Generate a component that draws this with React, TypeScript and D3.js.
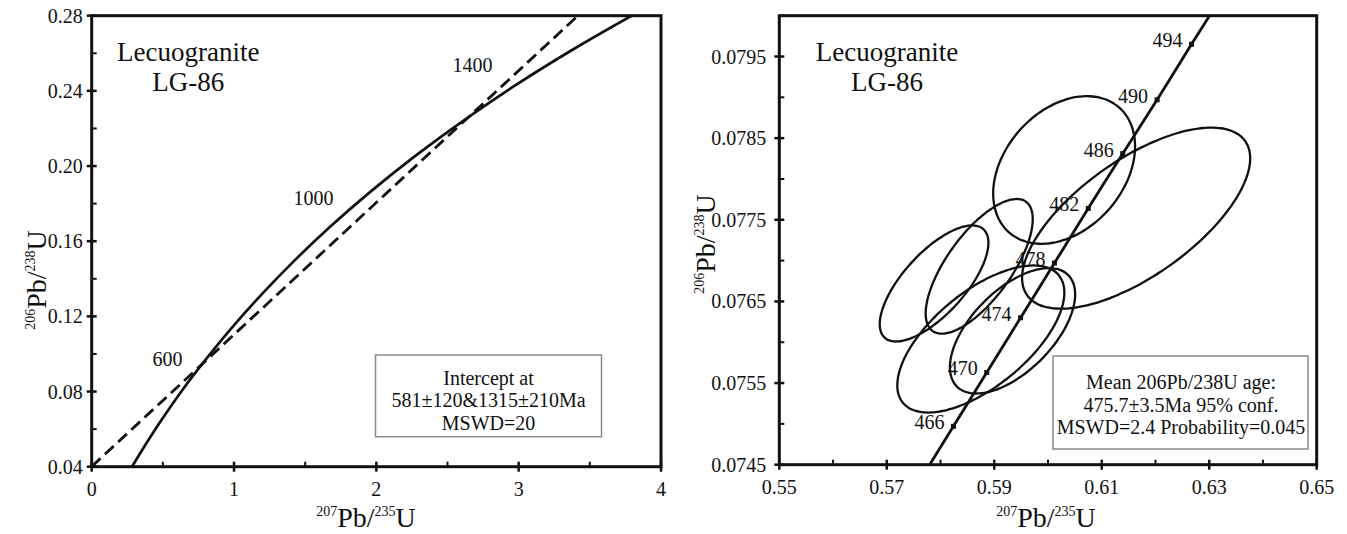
import React from 'react';
import * as d3 from 'd3';

// ---- left panel: concordia (207Pb/235U, 206Pb/238U)
const concX = [0.279, 0.344, 0.483, 0.636, 0.806, 0.993, 1.199, 1.426, 1.677, 1.955, 2.26, 2.598, 2.97, 3.381, 3.834];
const concY = [0.0395, 0.0476, 0.064, 0.0807, 0.0975, 0.1147, 0.1321, 0.1498, 0.1678, 0.1861, 0.2046, 0.2234, 0.2426, 0.262, 0.2817];
// discordia (dashed)
const discX = [0, 3.416];
const discY = [0.0401, 0.28];
// age labels on the concordia
const ageText = ['600', '1000', '1400'];
const ageX = [0.806, 1.677, 2.97];
const ageY = [0.0975, 0.1678, 0.2426];

const leftXTicks = [0, 1, 2, 3, 4];
const leftXMinor = [0.5, 1.5, 2.5, 3.5];
const leftYTicks = [0.04, 0.08, 0.12, 0.16, 0.2, 0.24, 0.28];
const leftYMinor = [0.06, 0.1, 0.14, 0.18, 0.22, 0.26];
const leftBox = ['Intercept at', '581±120&1315±210Ma', 'MSWD=20'];

// ---- right panel: zoomed concordia with age marks
const zAges = ['466', '470', '474', '478', '482', '486', '490', '494'];
const zAgeX = [0.5824, 0.5886, 0.5949, 0.6012, 0.6075, 0.6139, 0.6203, 0.6267];
const zAgeY = [0.07497, 0.07563, 0.0763, 0.07697, 0.07764, 0.07831, 0.07897, 0.07965];
const zConcX = [0.5777, ...zAgeX, 0.6315];
const zConcY = [0.07447, ...zAgeY, 0.08015];

// error ellipses: centre, half extent in x and y, correlation
const spotX = [0.603, 0.6164, 0.5788, 0.5872, 0.5875, 0.5934];
const spotY = [0.07811, 0.07752, 0.07672, 0.07693, 0.07604, 0.07614];
const spotSx = [0.0132, 0.02122, 0.01011, 0.00996, 0.01554, 0.01165];
const spotSy = [0.000904, 0.001109, 0.000711, 0.000825, 0.000901, 0.000768];
const spotRho = [0.32, 0.66, 0.7, 0.7, 0.63, 0.58];

const rightXTicks = [0.55, 0.57, 0.59, 0.61, 0.63, 0.65];
const rightXMinor = [0.56, 0.58, 0.6, 0.62, 0.64];
const rightYTicks = [0.0745, 0.0755, 0.0765, 0.0775, 0.0785, 0.0795];
const rightYMinor = [0.075, 0.076, 0.077, 0.078, 0.079, 0.08];
const rightBox = ['Mean 206Pb/238U age:', '475.7±3.5Ma 95% conf.', 'MSWD=2.4 Probability=0.045'];

const FONT = '"Liberation Serif", "Times New Roman", serif';

function AxisTitle({ x, y, a, b, rotate }) {
  return (
    <text
      transform={`translate(${x},${y})${rotate ? ' rotate(-90)' : ''}`}
      textAnchor="middle"
      fontFamily={FONT}
      fontSize={28}
      fill="#111"
    >
      <tspan fontSize={14} dy={-11}>{a}</tspan>
      <tspan dy={11}>Pb/</tspan>
      <tspan fontSize={14} dy={-11}>{b}</tspan>
      <tspan dy={11}>U</tspan>
    </text>
  );
}

function Frame({ x, y, xTicks, xMinor, yTicks, yMinor, xFmt, yFmt, yLabelGap }) {
  const [x0, x1] = x.range();
  const [y0, y1] = y.range();
  return (
    <g fontFamily={FONT} fontSize={20} fill="#111">
      <rect x={x0} y={y1} width={x1 - x0} height={y0 - y1} fill="none" stroke="#111" strokeWidth={3} />
      {xTicks.map((t) => (
        <g key={'xt' + t}>
          <line x1={x(t)} x2={x(t)} y1={y0 - 5} y2={y0 + 5} stroke="#111" strokeWidth={2.5} />
          <text x={x(t)} y={y0 + 29} textAnchor="middle">{xFmt(t)}</text>
        </g>
      ))}
      {xMinor.map((t) => (
        <line key={'xm' + t} x1={x(t)} x2={x(t)} y1={y0 - 5} y2={y0} stroke="#111" strokeWidth={2} />
      ))}
      {yTicks.map((t) => (
        <g key={'yt' + t}>
          <line x1={x0 - 5} x2={x0 + 5} y1={y(t)} y2={y(t)} stroke="#111" strokeWidth={2.5} />
          <text x={x0 - yLabelGap} y={y(t) + 7} textAnchor="end">{yFmt(t)}</text>
        </g>
      ))}
      {yMinor.map((t) => (
        <line key={'ym' + t} x1={x0} x2={x0 + 5} y1={y(t)} y2={y(t)} stroke="#111" strokeWidth={2} />
      ))}
    </g>
  );
}

function InfoBox({ x, y, w, h, lines, cx, firstBase }) {
  return (
    <g fontFamily={FONT} fontSize={20} fill="#111">
      <rect x={x} y={y} width={w} height={h} fill="#fff" stroke="#8a8a8a" strokeWidth={1.5} />
      {lines.map((s, i) => (
        <text key={s} x={cx} y={firstBase + i * 22.5} textAnchor="middle">{s}</text>
      ))}
    </g>
  );
}

export default function App() {
  // left panel scales
  const lx = d3.scaleLinear().domain([0, 4]).range([91.7, 661]);
  const ly = d3.scaleLinear().domain([0.04, 0.28]).range([466.7, 15.7]);
  // right panel scales
  const rx = d3.scaleLinear().domain([0.55, 0.65]).range([779.3, 1316.7]);
  const ry = d3.scaleLinear().domain([0.0745, 0.08]).range([464.7, 15.7]);

  const concPts = concX.map((v, i) => [v, concY[i]]);
  const concPath = d3
    .line()
    .x((d) => lx(d[0]))
    .y((d) => ly(d[1]))
    .curve(d3.curveCatmullRom)(concPts);
  const discPath = d3
    .line()
    .x((d) => lx(d[0]))
    .y((d) => ly(d[1]))(discX.map((v, i) => [v, discY[i]]));

  const zPath = d3
    .line()
    .x((d) => rx(d[0]))
    .y((d) => ry(d[1]))
    .curve(d3.curveCatmullRom)(zConcX.map((v, i) => [v, zConcY[i]]));

  const angles = d3.range(0, 2 * Math.PI, Math.PI / 60);
  const ellipse = (i) => {
    const r = spotRho[i];
    const s = Math.sqrt(1 - r * r);
    return d3
      .line()
      .x((a) => rx(spotX[i] + spotSx[i] * Math.cos(a)))
      .y((a) => ry(spotY[i] + spotSy[i] * (r * Math.cos(a) + s * Math.sin(a))))
      .curve(d3.curveCardinalClosed)(angles);
  };

  // label offsets (px) from the concordia age point
  const leftShift = [
    [-39, 7],
    [-17, -22],
    [-42, -14],
  ];

  return (
    <svg
      width={1347}
      height={534}
      style={{ position: 'absolute', left: 0, top: 0, background: '#fff' }}
    >
      <defs>
        <clipPath id="clipL">
          <rect x={91.7} y={15.7} width={661 - 91.7} height={466.7 - 15.7} />
        </clipPath>
        <clipPath id="clipR">
          <rect x={779.3} y={15.7} width={1316.7 - 779.3} height={464.7 - 15.7} />
        </clipPath>
      </defs>

      {/* ---------- left panel ---------- */}
      <g clipPath="url(#clipL)">
        <path d={concPath} fill="none" stroke="#111" strokeWidth={2.7} />
        <path d={discPath} fill="none" stroke="#111" strokeWidth={2.8} strokeDasharray="12 6" />
      </g>
      <Frame
        x={lx}
        y={ly}
        xTicks={leftXTicks}
        xMinor={leftXMinor}
        yTicks={leftYTicks}
        yMinor={leftYMinor}
        xFmt={(t) => String(t)}
        yFmt={(t) => t.toFixed(2)}
        yLabelGap={9}
      />
      <g fontFamily={FONT} fill="#111">
        {ageText.map((s, i) => (
          <text
            key={s}
            x={lx(ageX[i]) + leftShift[i][0]}
            y={ly(ageY[i]) + leftShift[i][1]}
            textAnchor="middle"
            fontSize={20}
          >
            {s}
          </text>
        ))}
        <text x={188.3} y={61} textAnchor="middle" fontSize={27}>Lecuogranite</text>
        <text x={188.3} y={91} textAnchor="middle" fontSize={27}>LG-86</text>
      </g>
      <InfoBox x={375.5} y={355} w={226} h={81.7} lines={leftBox} cx={488.5} firstBase={384.5} />
      <AxisTitle x={366} y={527} a="207" b="235" />
      <AxisTitle x={46} y={280} a="206" b="238" rotate />

      {/* ---------- right panel ---------- */}
      <g clipPath="url(#clipR)">
        {spotX.map((_, i) => (
          <path key={'e' + i} d={ellipse(i)} fill="none" stroke="#111" strokeWidth={2.3} />
        ))}
        <path d={zPath} fill="none" stroke="#111" strokeWidth={2.8} />
        {zAgeX.map((v, i) => (
          <rect
            key={'m' + i}
            x={rx(v) - 2.5}
            y={ry(zAgeY[i]) - 2.5}
            width={5}
            height={5}
            fill="#111"
          />
        ))}
      </g>
      <InfoBox x={1053} y={356} w={255} h={93} lines={rightBox} cx={1181} firstBase={389} />
      <Frame
        x={rx}
        y={ry}
        xTicks={rightXTicks}
        xMinor={rightXMinor}
        yTicks={rightYTicks}
        yMinor={rightYMinor}
        xFmt={(t) => t.toFixed(2)}
        yFmt={(t) => t.toFixed(4)}
        yLabelGap={13}
      />
      <g fontFamily={FONT} fill="#111">
        {zAges.map((s, i) => (
          <text
            key={s}
            x={rx(zAgeX[i]) - 24}
            y={ry(zAgeY[i]) + 3}
            textAnchor="middle"
            fontSize={20}
          >
            {s}
          </text>
        ))}
        <text x={887} y={61} textAnchor="middle" fontSize={27}>Lecuogranite</text>
        <text x={887} y={91} textAnchor="middle" fontSize={27}>LG-86</text>
      </g>
      <AxisTitle x={1046} y={527} a="207" b="235" />
      <AxisTitle x={715} y={244} a="206" b="238" rotate />
    </svg>
  );
}
